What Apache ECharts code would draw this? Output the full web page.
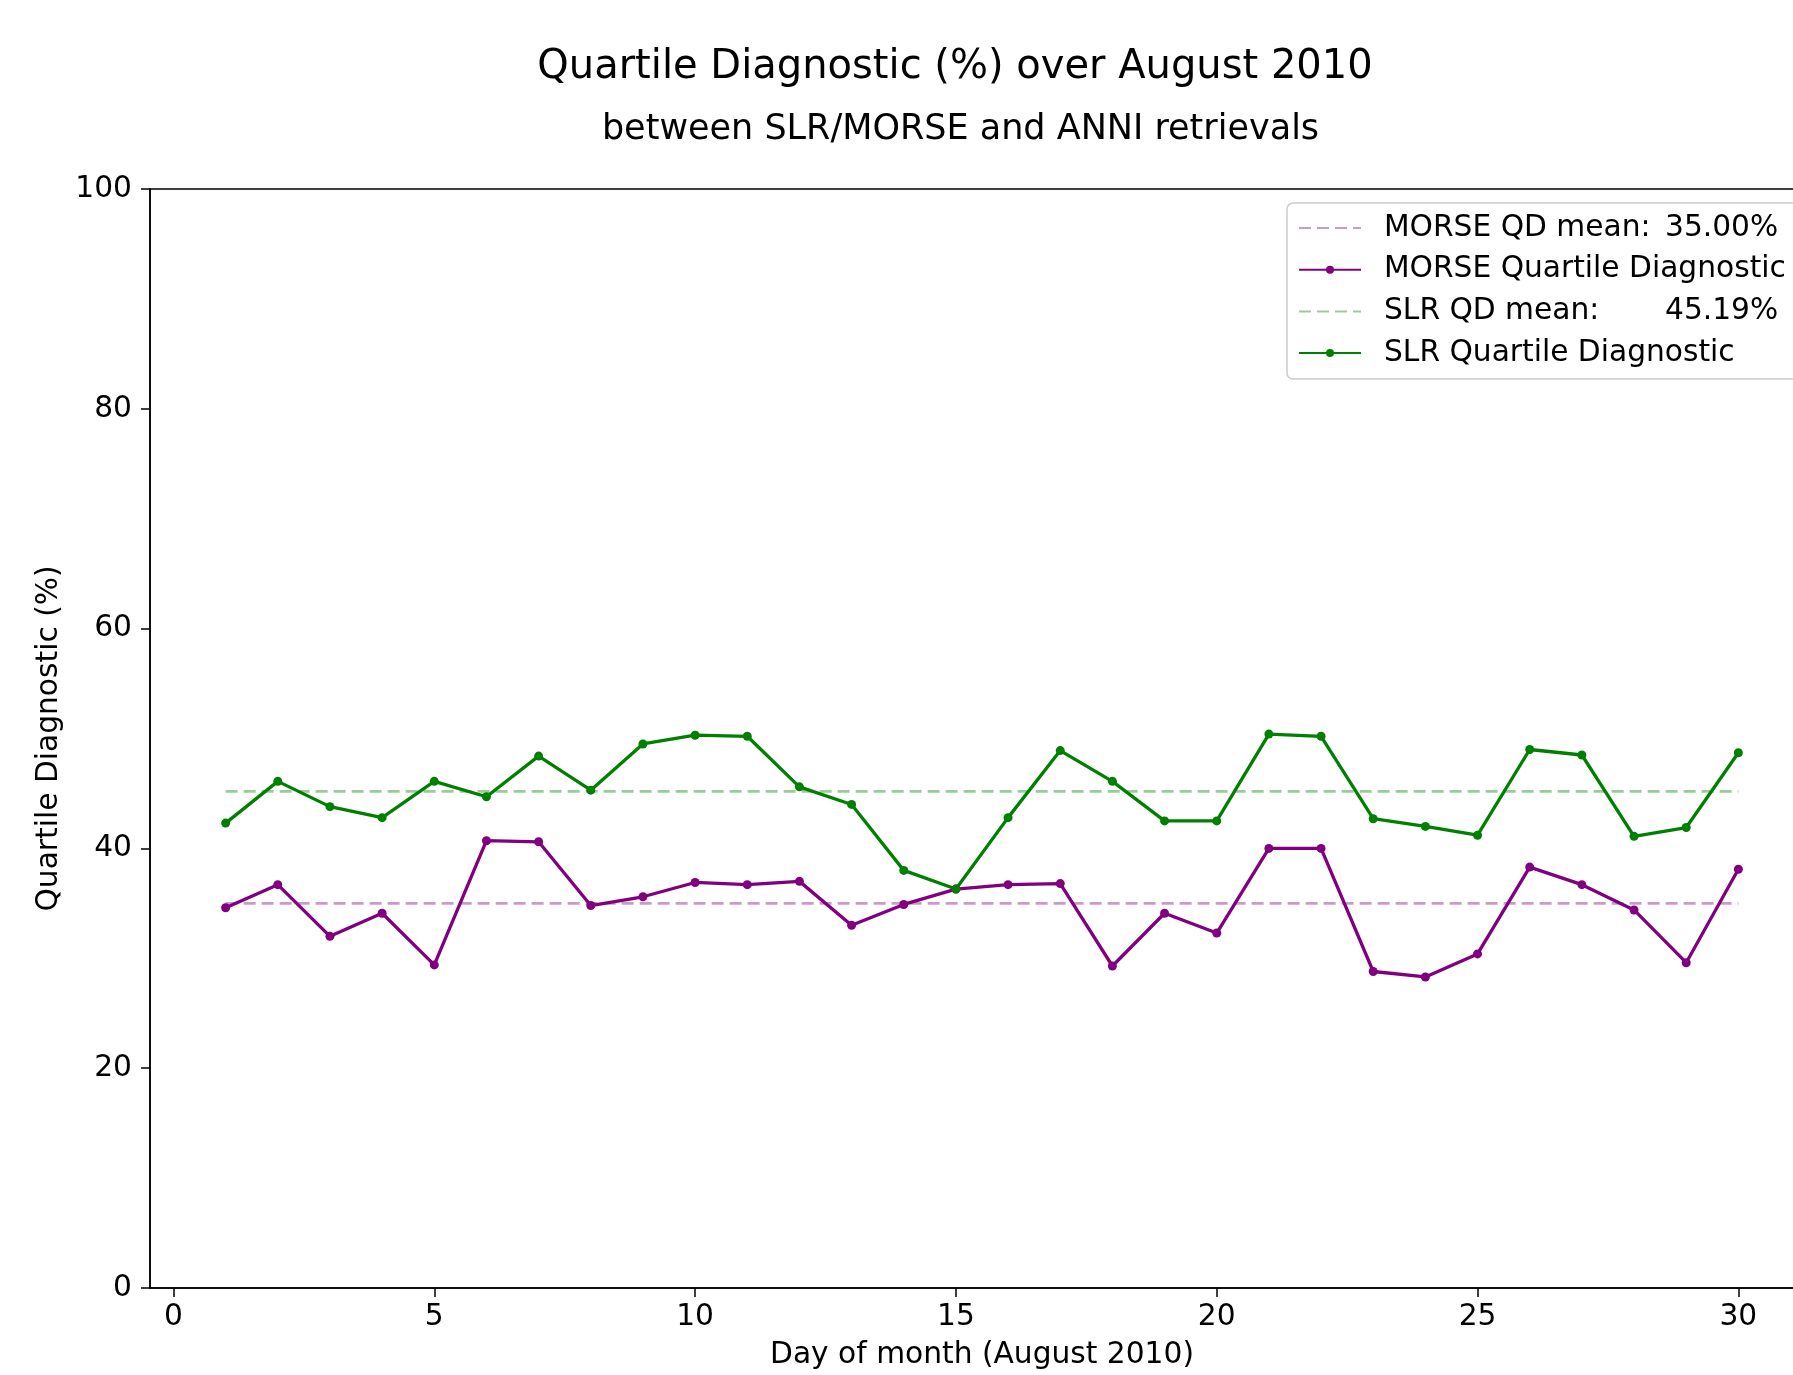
<!DOCTYPE html>
<html>
<head>
<meta charset="utf-8">
<script src="https://cdn.jsdelivr.net/npm/echarts@6/dist/echarts.min.js"></script>
<style>
html,body{margin:0;padding:0;background:#fff;overflow:hidden;width:1793px;height:1375px;}
#chart{width:1814px;height:1375px;}
</style>
</head>
<body>
<div id="chart"></div>
<script>
// ---- data ----
var days = [1,2,3,4,5,6,7,8,9,10,11,12,13,14,15,16,17,18,19,20,21,22,23,24,25,26,27,28,29,30];
var morseQD = [34.6,36.7,32.0,34.1,29.4,40.7,40.6,34.8,35.6,36.9,36.7,37.0,33.0,34.9,36.3,36.7,36.8,29.3,34.1,32.3,40.0,40.0,28.8,28.3,30.4,38.3,36.7,34.4,29.6,38.1];
var slrQD = [42.3,46.1,43.8,42.8,46.1,44.7,48.4,45.3,49.5,50.3,50.2,45.6,44.0,38.0,36.3,42.8,48.9,46.1,42.5,42.5,50.4,50.2,42.7,42.0,41.2,49.0,48.5,41.1,41.9,48.7];
var morseMean = 35.00;
var slrMean = 45.19;
var xTicks = [0,5,10,15,20,25,30];
var yTicks = [0,20,40,60,80,100];
var seriesNames = ['MORSE QD mean', 'MORSE Quartile Diagnostic', 'SLR QD mean', 'SLR Quartile Diagnostic'];
var meanLabels = {'MORSE QD mean': ['MORSE QD mean:', '35.00%'], 'SLR QD mean': ['SLR QD mean:', '45.19%']};
var titleText = 'Quartile Diagnostic (%) over August 2010';
var subtitleText = 'between SLR/MORSE and ANNI retrievals';
var xName = 'Day of month (August 2010)';
var yName = 'Quartile Diagnostic (%)';

function pairs(xs, ys){ return xs.map(function(x,i){ return [x, ys[i]]; }); }
function meanLine(v){ return [[days[0], v],[days[days.length-1], v]]; }

var FONT = 'DejaVu Sans';
var FS = 29.7;
var chart = echarts.init(document.getElementById('chart'), null, {renderer:'canvas'});
var legendData = seriesNames.map(function(n){
  if (meanLabels[n]) return {name:n, itemStyle:{color:'rgba(0,0,0,0)', borderWidth:0, opacity:0}};
  return {name:n};
});
var option = {
  animation: false,
  backgroundColor: '#fff',
  textStyle: {fontFamily: FONT},
  graphic: [
    {type:'text', x:955, y:67.5, style:{text:titleText, font:'40px "DejaVu Sans"', fill:'#000', textAlign:'center', textVerticalAlign:'middle'}},
    {type:'text', x:960.5, y:130, style:{text:subtitleText, font:'35px "DejaVu Sans"', fill:'#000', textAlign:'center', textVerticalAlign:'middle'}}
  ],
  grid: {left:150, top:189, bottom:85, right:0, show:true, borderColor:'#000', borderWidth:1.5, backgroundColor:'transparent'},
  xAxis: {
    type:'value', min:-0.45, max:31.45,
    name: xName, nameLocation:'middle', nameGap:52,
    nameTextStyle:{fontFamily:FONT, fontSize:FS, color:'#000'},
    axisLine:{show:true, onZero:false, lineStyle:{color:'#000', width:1.5}},
    axisTick:{show:true, inside:false, length:9, customValues:xTicks, lineStyle:{color:'#000', width:1.5}},
    axisLabel:{customValues:xTicks, fontFamily:FONT, fontSize:FS, color:'#000', margin:14},
    splitLine:{show:false}
  },
  yAxis: {
    type:'value', min:0, max:100, interval:20,
    name: yName, nameLocation:'middle', nameGap:85, nameRotate:90,
    nameTextStyle:{fontFamily:FONT, fontSize:FS, color:'#000'},
    axisLine:{show:true, onZero:false, lineStyle:{color:'#000', width:1.5}},
    axisTick:{show:true, inside:false, length:9, lineStyle:{color:'#000', width:1.5}},
    axisLabel:{fontFamily:FONT, fontSize:FS, color:'#000', margin:18},
    splitLine:{show:false}
  },
  legend: {
    orient:'vertical', left:1287, top:203,
    itemWidth:62, itemHeight:10, itemGap:11.7,
    padding:[10,24,11,11],
    borderColor:'#cccccc', borderWidth:1.5, borderRadius:6,
    backgroundColor:'rgba(255,255,255,0.8)',
    data: legendData,
    formatter: function(name){
      if (meanLabels[name]) return '{a|' + meanLabels[name][0] + '}{b|' + meanLabels[name][1] + '}';
      return name;
    },
    textStyle:{fontFamily:FONT, fontSize:FS, color:'#000', padding:[0,0,0,18],
      rich:{a:{fontFamily:FONT, fontSize:FS, color:'#000', width:281}, b:{fontFamily:FONT, fontSize:FS, color:'#000'}}}
  },
  series: [
    {name:seriesNames[0], type:'line', data:meanLine(morseMean), symbol:'none',
     lineStyle:{color:'rgba(128,0,128,0.4)', width:2.7, type:[12,6]}, itemStyle:{color:'rgba(128,0,128,0.4)'}, z:2},
    {name:seriesNames[1], type:'line', data:pairs(days, morseQD), symbol:'circle', symbolSize:9, showSymbol:true,
     lineStyle:{color:'#800080', width:3.3}, itemStyle:{color:'#800080'}, z:3},
    {name:seriesNames[2], type:'line', data:meanLine(slrMean), symbol:'none',
     lineStyle:{color:'rgba(0,128,0,0.4)', width:2.7, type:[12,6]}, itemStyle:{color:'rgba(0,128,0,0.4)'}, z:2},
    {name:seriesNames[3], type:'line', data:pairs(days, slrQD), symbol:'circle', symbolSize:9, showSymbol:true,
     lineStyle:{color:'#008000', width:3.3}, itemStyle:{color:'#008000'}, z:3}
  ]
};
chart.setOption(option);
</script>
</body>
</html>
